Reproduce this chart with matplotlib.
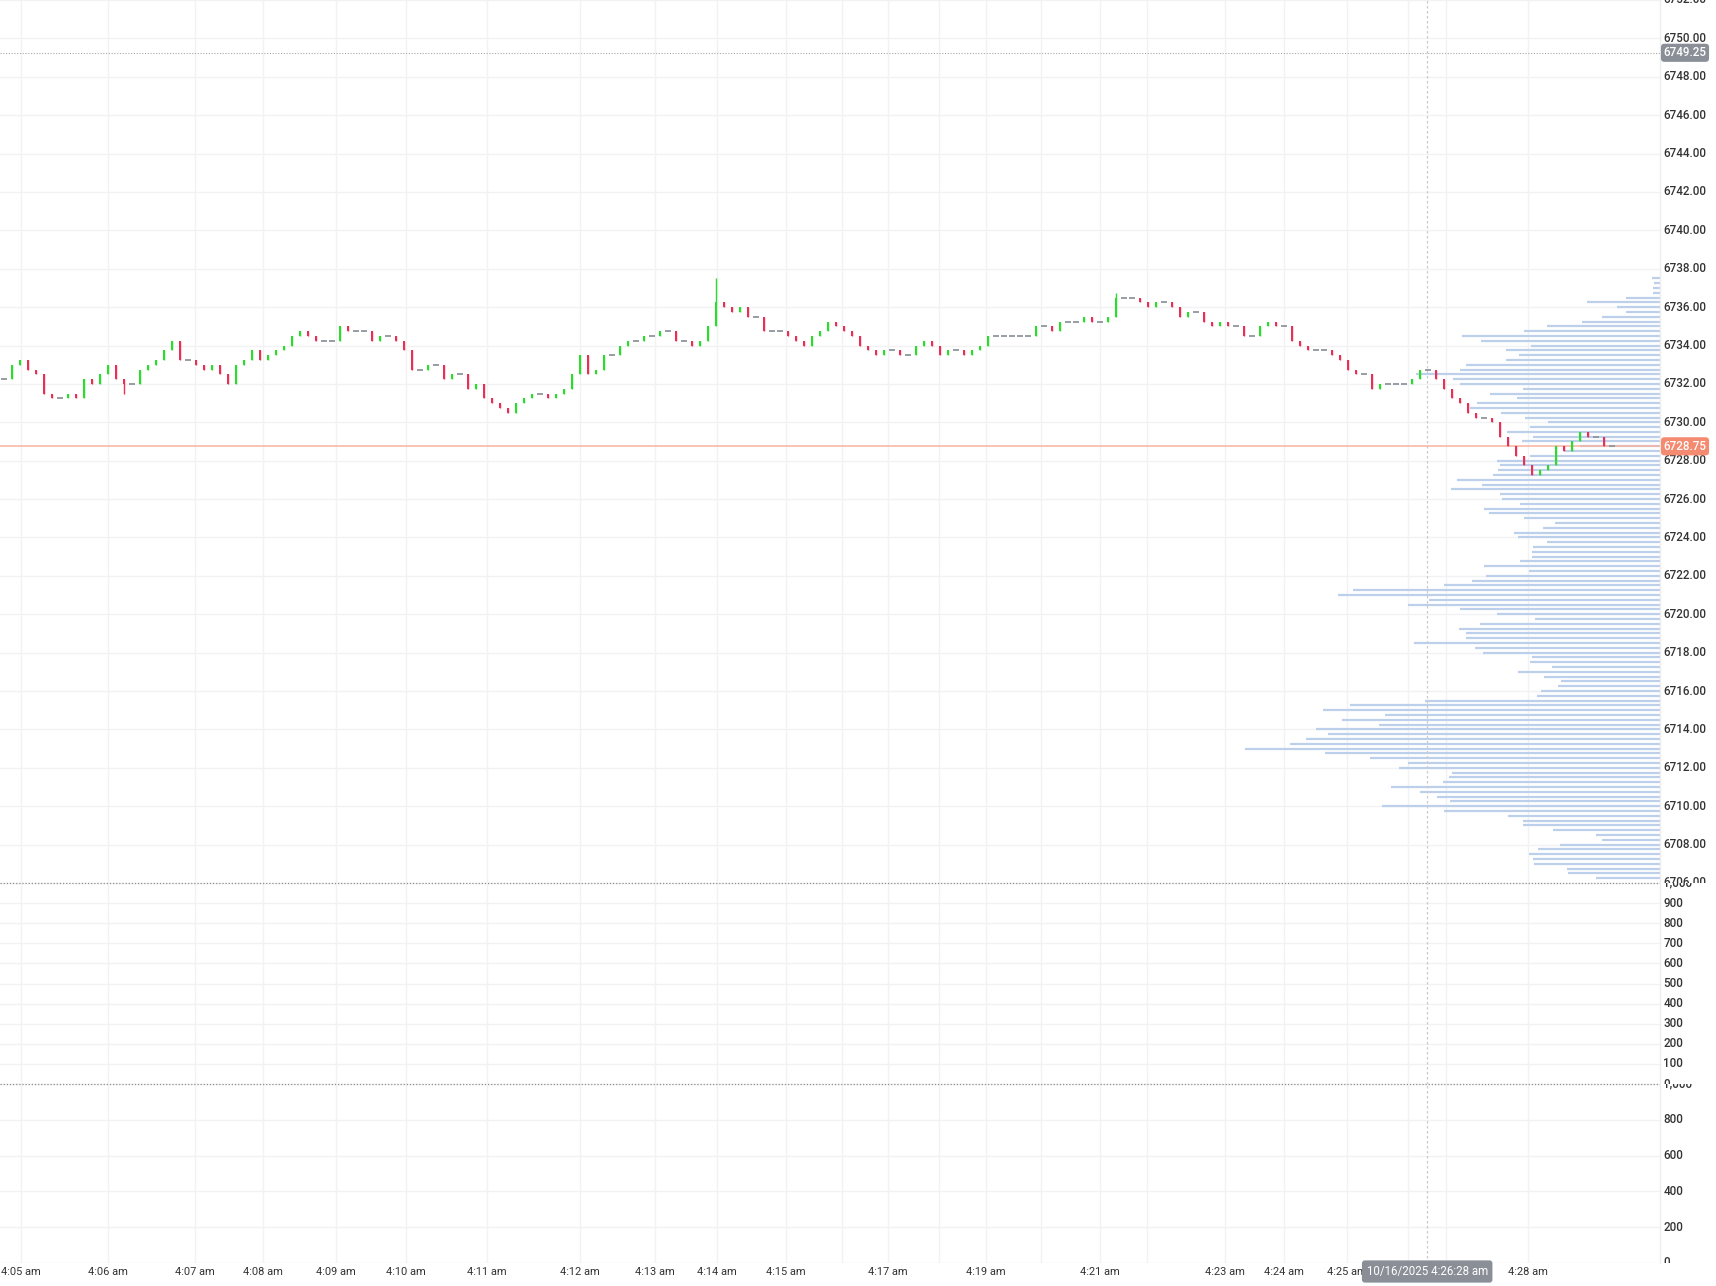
import numpy as np
import matplotlib
matplotlib.use("Agg")
import matplotlib.pyplot as plt
from matplotlib.lines import Line2D
from matplotlib.transforms import Bbox, TransformedBbox, blended_transform_factory

plt.rcParams['font.family'] = ['Roboto', 'DejaVu Sans']

# ---------------- data ----------------
closes = [
    6732.25, 6733.0, 6733.25, 6732.75, 6732.5, 6731.5, 6731.25, 6731.25, 6731.5, 6731.25,
    6732.25, 6732.0, 6732.5, 6733.0, 6732.25, 6732.0, 6732.0, 6732.75, 6733.0, 6733.25,
    6733.75, 6734.25, 6733.25, 6733.25, 6733.0, 6732.75, 6733.0, 6732.5, 6732.0, 6733.0,
    6733.25, 6733.75, 6733.25, 6733.5, 6733.75, 6734.0, 6734.5, 6734.75, 6734.5, 6734.25,
    6734.25, 6734.25, 6735.0, 6734.75, 6734.75, 6734.75, 6734.25, 6734.5, 6734.5, 6734.25,
    6733.75, 6732.75, 6732.75, 6733.0, 6733.0, 6732.25, 6732.5, 6732.5, 6731.75, 6732.0,
    6731.25, 6731.0, 6730.75, 6730.5, 6731.0, 6731.25, 6731.5, 6731.5, 6731.25, 6731.5,
    6731.75, 6732.5, 6733.5, 6732.5, 6732.75, 6733.5, 6733.5, 6734.0, 6734.25, 6734.25,
    6734.5, 6734.5, 6734.75, 6734.75, 6734.25, 6734.25, 6734.0, 6734.25, 6735.0, 6736.25,
    6736.0, 6735.75, 6736.0, 6735.5, 6735.5, 6734.75, 6734.75, 6734.75, 6734.5, 6734.25,
    6734.0, 6734.5, 6734.75, 6735.25, 6735.0, 6734.75, 6734.5, 6734.0, 6733.75, 6733.5,
    6733.75, 6733.75, 6733.5, 6733.5, 6734.0, 6734.25, 6734.0, 6733.5, 6733.75, 6733.75,
    6733.5, 6733.75, 6734.0, 6734.5, 6734.5, 6734.5, 6734.5, 6734.5, 6734.5, 6735.0,
    6735.0, 6734.75, 6735.25, 6735.25, 6735.25, 6735.5, 6735.25, 6735.25, 6735.5, 6736.5,
    6736.5, 6736.5, 6736.25, 6736.0, 6736.25, 6736.25, 6736.0, 6735.5, 6735.75, 6735.75,
    6735.25, 6735.0, 6735.25, 6735.0, 6735.0, 6734.5, 6734.5, 6735.0, 6735.25, 6735.0,
    6735.0, 6734.25, 6734.0, 6733.75, 6733.75, 6733.75, 6733.5, 6733.25, 6732.75, 6732.5,
    6732.5, 6731.75, 6732.0, 6732.0, 6732.0, 6732.0, 6732.25, 6732.75, 6732.75, 6732.25,
    6731.75, 6731.25, 6731.0, 6730.5, 6730.25, 6730.25, 6730.0, 6729.25, 6728.75, 6728.25,
    6727.75, 6727.25, 6727.5, 6727.75, 6728.75, 6728.5, 6729.0, 6729.5, 6729.25, 6729.25,
    6728.75, 6728.75,
]
high_idx = [89, 139]
high_val = [6737.5, 6736.75]
low_idx = [15, 191]
low_val = [6731.5, 6727.25]

profile_top = 6737.5
profile_volume = [
    8, 6, 7, 7, 34, 73, 43, 34, 58, 78,
    113, 136, 198, 179, 129, 154, 141, 154, 194, 200,
    244, 207, 200, 137, 170, 143, 183, 190, 159, 135,
    112, 130, 153, 127, 138, 80, 95, 130, 163, 160,
    162, 167, 203, 178, 209, 160, 158, 140, 176, 171,
    136, 105, 117, 146, 142, 113, 127, 128, 128, 140,
    176, 131, 174, 188, 216, 307, 322, 231, 252, 200,
    163, 125, 180, 201, 194, 194, 246, 185, 177, 128,
    130, 108, 142, 116, 99, 102, 119, 123, 235, 310,
    337, 275, 318, 281, 344, 332, 354, 370, 415, 335,
    290, 252, 261, 208, 211, 217, 269, 240, 223, 210,
    278, 216, 152, 137, 137, 107, 64, 58, 100, 122,
    131, 127, 126, 93, 92, 64,
]

price_ticks = list(range(6706, 6753, 2))
vol2_ticks = list(range(0, 1001, 100))
vol3_ticks = list(range(0, 1001, 200))

minute_pos = [2.1, 13.0, 23.9, 32.4, 41.5, 50.25, 60.4, 72.0, 81.4, 89.1, 97.75, 104.75,
              110.5, 116.9, 122.75, 129.6, 137.0, 142.9, 152.6, 160.0, 167.9, 175.5, 180.25, 190.5]
minute_labels = ['4:05 am', '4:06 am', '4:07 am', '4:08 am', '4:09 am', '4:10 am', '4:11 am',
                 '4:12 am', '4:13 am', '4:14 am', '4:15 am', '', '4:17 am', '', '4:19 am', '',
                 '4:21 am', '', '4:23 am', '4:24 am', '4:25 am', '', '', '4:28 am']

last_price = 6728.75
marker_price = 6749.25
cross_pos = 177.9
cross_label = '10/16/2025 4:26:28 am'

# ---------------- figure layout ----------------
W, H = 1716, 1286
fig = plt.figure(figsize=(W / 100, H / 100), dpi=100, facecolor='white')
PR = 1660
Y1, Y2, Y3 = 883, 1084, 1263
ax1 = fig.add_axes([0, 1 - Y1 / H, PR / W, Y1 / H])
ax2 = fig.add_axes([0, 1 - Y2 / H, PR / W, (Y2 - Y1) / H])
ax3 = fig.add_axes([0, 1 - Y3 / H, PR / W, (Y3 - Y2) / H])

GRID = '#f1f2f4'
TXT = '#333333'
n = len(closes)
x = np.arange(n)
xlim = (-0.5, 207.0)

ax1.set_ylim(6706.05, 6752.0)
ax2.set_ylim(0, 1000)
ax3.set_ylim(0, 1000)
for ax, yt in ((ax1, price_ticks), (ax2, vol2_ticks), (ax3, vol3_ticks)):
    ax.set_xlim(*xlim)
    ax.set_xticks(minute_pos)
    ax.set_yticks(yt)
    ax.grid(True, color=GRID, lw=1.0)
    ax.set_axisbelow(True)
    ax.tick_params(length=0, labelleft=False, labelbottom=False)
    for s in ax.spines.values():
        s.set_visible(False)

# ---------------- volume profile (right-anchored, behind candles) ----------------
profile_prices = profile_top - 0.25 * np.arange(len(profile_volume))
prof_span = max(profile_volume) / 0.25          # longest bar spans 25% of pane width
vol = np.array(profile_volume, dtype=float)
trprof = blended_transform_factory(ax1.transAxes, ax1.transData)
ax1.hlines(profile_prices, 1 - vol / prof_span, np.ones_like(vol), transform=trprof,
           colors='#bccfeb', lw=1.6, capstyle='butt', zorder=1.5)

# ---------------- candles ----------------
c = np.array(closes)
o = np.r_[c[0], c[:-1]]
hi = np.maximum(o, c)
lo = np.minimum(o, c)
for i, v in zip(high_idx, high_val):
    hi[i] = v
for i, v in zip(low_idx, low_val):
    lo[i] = v
GREEN, RED, GRAY = '#2cdc2c', '#ea2f55', '#90959c'
up = c > o
dn = c < o
dj = c == o
colors = np.where(up, GREEN, np.where(dn, RED, GRAY))
ax1.vlines(x, lo, hi, colors=colors, lw=1.0, zorder=3)
ax1.bar(x[up], (c - o)[up], bottom=o[up], width=0.28, color=GREEN, lw=0, zorder=4)
ax1.bar(x[dn], (c - o)[dn], bottom=o[dn], width=0.28, color=RED, lw=0, zorder=4)
ax1.hlines(c[dj], x[dj] - 0.35, x[dj] + 0.35, colors=GRAY, lw=1.3, zorder=4)

# last price and marker lines
ax1.axhline(last_price, color='#f8b29f', lw=1.1, zorder=2.5)
ax1.axhline(marker_price, color='#a8a8a8', lw=0.8, ls=(0, (1, 1.5)), zorder=2.5)

# crosshair
for ax in (ax1, ax2, ax3):
    ax.axvline(cross_pos, color='#cacaca', lw=0.9, ls=(0, (2, 2)), zorder=2)

# separators and right border
for yy in (Y1, Y2):
    fig.add_artist(Line2D([0, PR / W], [1 - yy / H] * 2, transform=fig.transFigure,
                          color='#8f8f8f', lw=0.9, ls=(0, (1, 1.5))))
fig.add_artist(Line2D([PR / W] * 2, [1 - Y3 / H, 1], transform=fig.transFigure,
                      color='#ededed', lw=1.0))

# ---------------- right axis labels (clipped to each pane) ----------------
FS = 8.4
LX = 1663.5 / W


def right_labels(ax, values, fmt, top_px, bot_px):
    tr = blended_transform_factory(fig.transFigure, ax.transData)
    clip = TransformedBbox(Bbox([[0, 1 - bot_px / H], [1, 1 - top_px / H]]), fig.transFigure)
    for v in values:
        t = fig.text(LX, v, fmt(v), transform=tr, ha='left', va='center', fontsize=FS,
                     color=TXT, fontweight='medium')
        t.set_clip_on(True)
        t.set_clip_box(clip)


right_labels(ax1, price_ticks, lambda v: f"{v:.2f}", 0, Y1)
right_labels(ax2, vol2_ticks, lambda v: f"{v:,}", Y1, Y2)
right_labels(ax3, vol3_ticks, lambda v: f"{v:,}", Y2, Y3)

# price badges
trp = blended_transform_factory(fig.transFigure, ax1.transData)
fig.text(LX, marker_price, f"{marker_price:.2f}", transform=trp, ha='left', va='center',
         fontsize=FS, color='white', fontweight='medium', zorder=10,
         bbox=dict(boxstyle='round,pad=0.22,rounding_size=0.3', fc='#8a8f97', ec='none'))
fig.text(LX, last_price, f"{last_price:.2f}", transform=trp, ha='left', va='center',
         fontsize=FS, color='white', fontweight='medium', zorder=10,
         bbox=dict(boxstyle='round,pad=0.22,rounding_size=0.3', fc='#f48a6f', ec='none'))

# ---------------- time axis ----------------
ax3.tick_params(labelbottom=True, pad=3, labelsize=7.9, labelcolor=TXT)
ax3.set_xticklabels(minute_labels)
trx = blended_transform_factory(ax3.transData, fig.transFigure)
fig.text(cross_pos, 1 - 1271.5 / H, cross_label, transform=trx, ha='center', va='center',
         fontsize=8.3, color='white', zorder=10,
         bbox=dict(boxstyle='round,pad=0.4,rounding_size=0.25', fc='#8a8f97', ec='none'))

fig.savefig('out.png', dpi=100, facecolor='white')
